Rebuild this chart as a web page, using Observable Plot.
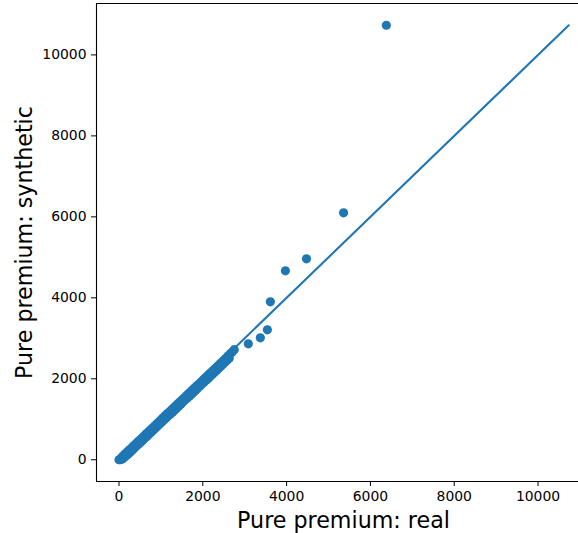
<!DOCTYPE html>
<html>
<head>
<meta charset="utf-8">
<script src="https://cdn.jsdelivr.net/npm/d3@7"></script>
<script src="https://cdn.jsdelivr.net/npm/@observablehq/plot@0.6"></script>
<style>
  html, body { margin: 0; padding: 0; background: #fff; }
  #chart { width: 578px; height: 533px; }
</style>
</head>
<body>
<div id="chart"></div>
<script>
// Pure premium: real (x) and synthetic (y)
const real = [
  0, 50, 100, 150, 200, 250, 300, 350, 400, 450, 500, 550, 600, 650, 700, 750, 800, 850, 900, 950,
  1000, 1050, 1100, 1150, 1200, 1250, 1300, 1350, 1400, 1450, 1500, 1550, 1600, 1650, 1700, 1750,
  1800, 1850, 1900, 1950, 2000, 2050, 2100, 2150, 2200, 2250, 2300, 2350, 2400, 2450, 2500, 2550,
  2600, 2650, 2700, 2750,
  30, 80, 130, 180, 230, 280, 330, 380, 430, 480, 530, 580, 630, 680, 730, 780, 830, 880, 930, 980,
  1030, 1080, 1130, 1180, 1230, 1280, 1330, 1380, 1430, 1480, 1530, 1580, 1630, 1680, 1730, 1780,
  1830, 1880, 1930, 1980, 2030, 2080, 2130, 2180, 2230, 2280, 2330, 2380, 2430, 2480, 2530, 2580,
  2630,
  3086, 3373, 3541, 3612, 3971, 4474, 5359, 6380
];
const synthetic = [
  0, 45, 98, 146, 195, 246, 292, 345, 392, 442, 490, 540, 588, 640, 688, 738, 785, 835, 885, 935,
  985, 1035, 1085, 1135, 1180, 1230, 1280, 1330, 1380, 1425, 1475, 1525, 1575, 1625, 1670, 1720,
  1770, 1820, 1865, 1915, 1965, 2015, 2065, 2115, 2160, 2210, 2260, 2310, 2360, 2405, 2455, 2505,
  2560, 2610, 2660, 2720,
  0, 20, 60, 105, 150, 200, 250, 300, 350, 395, 445, 495, 545, 595, 645, 690, 740, 790, 840, 890,
  940, 990, 1040, 1085, 1130, 1180, 1230, 1280, 1330, 1380, 1430, 1480, 1525, 1570, 1620, 1670,
  1720, 1770, 1820, 1870, 1920, 1965, 2010, 2060, 2110, 2160, 2210, 2260, 2310, 2360, 2410, 2460,
  2510,
  2864, 3012, 3210, 3901, 4667, 4963, 6099, 10733
];
// identity reference line end points
const diagonal = [0, 10733];
const xTicks = [0, 2000, 4000, 6000, 8000, 10000];
const yTicks = [0, 2000, 4000, 6000, 8000, 10000];

const points = real.map((r, i) => ({real: r, synthetic: synthetic[i]}));
const lineData = diagonal.map(v => ({v}));
const blue = "#1f77b4";
const xDom = [-537, 10966];
const yDom = [-537, 11270];

const chart = Plot.plot({
  width: 578,
  height: 533,
  marginLeft: 96,
  marginRight: 0,
  marginTop: 3,
  marginBottom: 52,
  x: {domain: xDom},
  y: {domain: yDom},
  style: {fontFamily: "DejaVu Sans", background: "white", color: "black"},
  marks: [
    Plot.line(lineData, {x: "v", y: "v", stroke: blue, strokeWidth: 2.1}),
    Plot.dot(points, {x: "real", y: "synthetic", r: 4.6, fill: blue, stroke: "none"}),
    Plot.ruleY([yDom[1]], {stroke: "black", strokeWidth: 1.1}),
    Plot.ruleY([yDom[0]], {stroke: "black", strokeWidth: 1.1}),
    Plot.ruleX([xDom[0]], {stroke: "black", strokeWidth: 1.1}),
    Plot.axisX({ticks: xTicks, tickFormat: d => String(d), tickSize: 5, tickPadding: 5, fontSize: 13.9, label: null}),
    Plot.axisY({ticks: yTicks, tickFormat: d => String(d), tickSize: 5, tickPadding: 5, fontSize: 13.9, label: null}),
    Plot.text(["Pure premium: real"], {frameAnchor: "bottom", dx: 6, dy: 39, fontSize: 22.2, lineAnchor: "middle", textAnchor: "middle", fill: "black"}),
    Plot.text(["Pure premium: synthetic"], {frameAnchor: "left", dx: -72, rotate: -90, fontSize: 22.2, lineAnchor: "middle", textAnchor: "middle", fill: "black"})
  ]
});
document.getElementById("chart").appendChild(chart);
</script>
</body>
</html>
